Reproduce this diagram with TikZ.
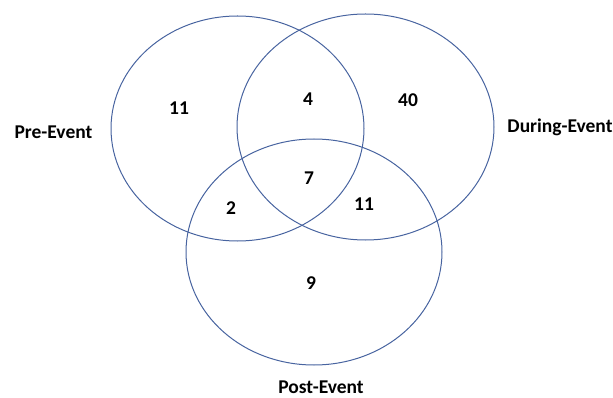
\documentclass[tikz,border=0pt]{standalone}
\usepackage{fontspec}
\setmainfont{Carlito}
\definecolor{vennblue}{RGB}{72,100,160}
\begin{document}
\begin{tikzpicture}[x=1pt, y=1pt,
    venn/.style={draw=vennblue, line width=1pt},
    setlabel/.style={font=\fontsize{19.5}{23}\selectfont\bfseries, inner sep=0pt},
    count/.style={font=\fontsize{19.5}{23}\selectfont\bfseries, inner sep=0pt}]
        \useasboundingbox (0,0) rectangle (613,-398);

        \draw[venn] (237.5,-128.5) ellipse [x radius=126.5, y radius=112.5];
        \draw[venn] (365.5,-127) ellipse [x radius=128.5, y radius=113];
        \draw[venn] (314,-252) ellipse [x radius=128, y radius=113];

        \node[setlabel] (pre) at (53.5,-132){Pre-Event};
        \node[setlabel] (during) at (560,-127){During-Event};
        \node[setlabel] (post) at (321,-387){Post-Event};

        \node[count] (pre-only) at (179,-108){11};
        \node[count] (pre-during) at (308,-99){4};
        \node[count] (during-only) at (408,-100){40};
        \node[count] (all) at (309,-178){7};
        \node[count] (pre-post) at (231,-208){2};
        \node[count] (during-post) at (364,-204){11};
        \node[count] (post-only) at (311,-283){9};

      \end{tikzpicture}
\end{document}
